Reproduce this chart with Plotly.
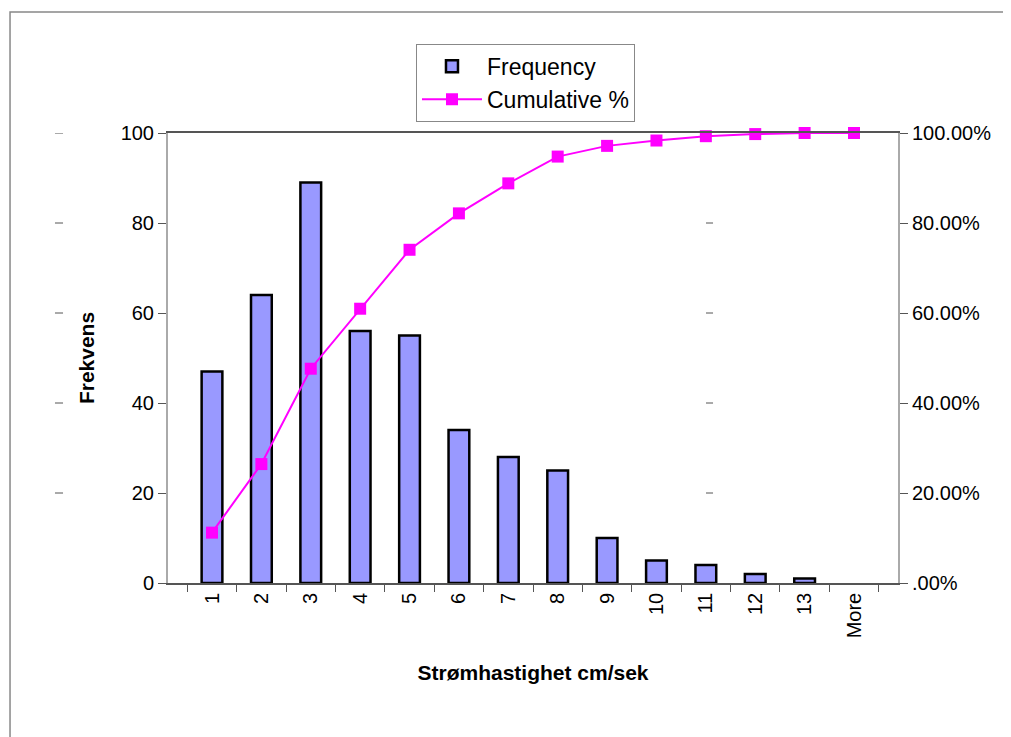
import plotly.graph_objects as go

categories = ["1", "2", "3", "4", "5", "6", "7", "8", "9", "10", "11", "12", "13", "More"]
frequency = [47, 64, 89, 56, 55, 34, 28, 25, 10, 5, 4, 2, 1, 0]
cumulative = [0.1119, 0.2643, 0.4762, 0.6095, 0.7405, 0.8214, 0.8881, 0.9476,
              0.9714, 0.9833, 0.9929, 0.9976, 1.0, 1.0]
y_ticks = [0, 20, 40, 60, 80, 100]
y2_ticks = [0, 0.2, 0.4, 0.6, 0.8, 1.0]
y2_labels = [".00%", "20.00%", "40.00%", "60.00%", "80.00%", "100.00%"]

FONT = "Liberation Sans, Arial, sans-serif"

fig = go.Figure()
fig.add_trace(go.Bar(
    x=categories, y=frequency, name="Frequency",
    marker=dict(color="#9999FF",
                line=dict(color="black", width=[2.5 if v > 0 else 0 for v in frequency])),
    yaxis="y",
))
fig.add_trace(go.Scatter(
    x=categories, y=cumulative, name="Cumulative %", mode="lines+markers",
    line=dict(color="#FF00FF", width=2),
    marker=dict(symbol="square", size=12, color="#FF00FF"),
    yaxis="y2", cliponaxis=False,
))

# outer chart border and stray tick dashes seen in the reference
shapes = [
    dict(type="rect", xref="paper", yref="paper",
         x0=-0.2164, x1=1.2, y0=-0.4, y1=1.2689,
         line=dict(color="#888888", width=1.5), fillcolor="rgba(0,0,0,0)", layer="below"),
]
for t in y_ticks[1:]:
    shapes.append(dict(type="line", xref="paper", yref="y", x0=-0.1548, x1=-0.1438, y0=t, y1=t,
                       line=dict(color="#555555", width=1)))
for t in y_ticks[1:-1]:
    shapes.append(dict(type="line", xref="paper", yref="y", x0=0.737, x1=0.7466, y0=t, y1=t,
                       line=dict(color="#555555", width=1)))

fig.update_layout(
    width=1003, height=729,
    margin=dict(l=160, r=113, t=125, b=154),
    paper_bgcolor="white", plot_bgcolor="white",
    font=dict(family=FONT, color="black", size=20),
    bargap=0.58,
    showlegend=True,
    legend=dict(
        x=0.3397, y=1.198, xanchor="left", yanchor="top",
        bordercolor="#888888", borderwidth=1, bgcolor="white",
        font=dict(size=23, family=FONT),
        traceorder="normal", itemwidth=60,
    ),
    xaxis=dict(
        type="category", showgrid=False, showline=True, linecolor="#555555", linewidth=1.5,
        mirror=True, ticks="outside", ticklen=7, tickcolor="#555555",
        tickson="boundaries", tickangle=-90, automargin=False,
        tickfont=dict(size=20, family=FONT),
        title=dict(text="<b>Strømhastighet cm/sek</b>", font=dict(size=21, family=FONT), standoff=28),
        zeroline=False,
    ),
    yaxis=dict(
        range=[0, 100], tickvals=y_ticks, showgrid=False, showline=True,
        linecolor="#AAAAAA", linewidth=2, ticks="outside", ticklen=8, tickcolor="#555555",
        tickfont=dict(size=20, family=FONT), zeroline=False, automargin=False,
        title=dict(text="<b>Frekvens</b>", font=dict(size=21, family=FONT), standoff=20),
    ),
    yaxis2=dict(
        range=[0, 1], overlaying="y", side="right", tickvals=y2_ticks, ticktext=y2_labels,
        showgrid=False, showline=True, linecolor="#AAAAAA", linewidth=2,
        ticks="outside", ticklen=8, tickcolor="#555555", automargin=False,
        tickfont=dict(size=20, family=FONT), zeroline=False,
    ),
    shapes=shapes,
)

fig.write_html("out.html")
